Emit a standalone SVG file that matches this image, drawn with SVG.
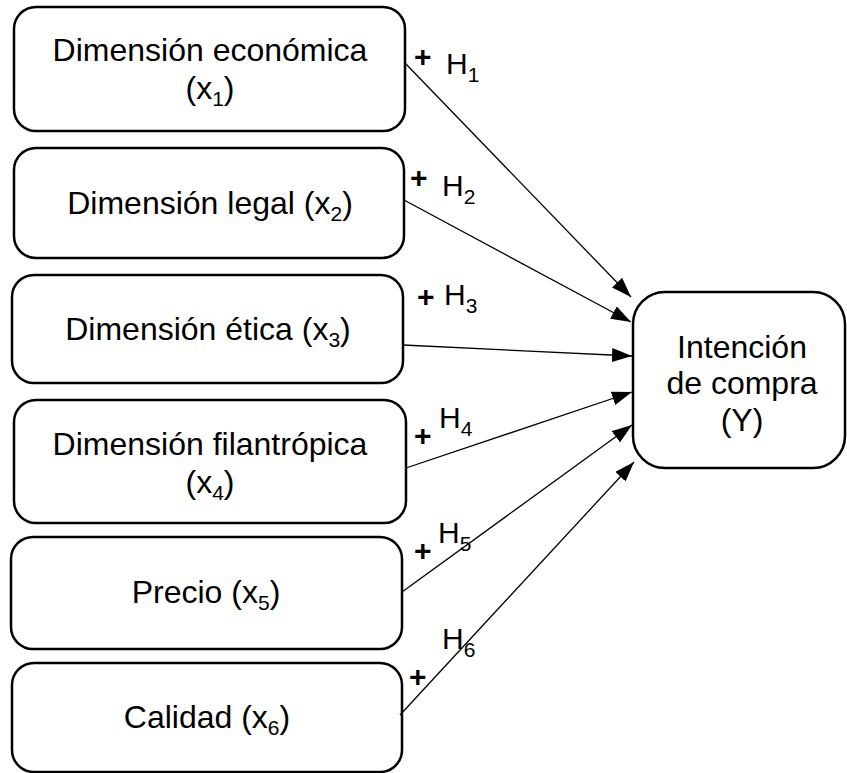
<svg xmlns="http://www.w3.org/2000/svg" width="847" height="773" viewBox="0 0 847 773">
<defs>
<style>
.box{fill:#fff;stroke:#000;stroke-width:2.5}
.t{font-family:"Liberation Sans",Arial,sans-serif;font-size:32px;fill:#000;text-anchor:middle}
.h{font-family:"Liberation Sans",Arial,sans-serif;font-size:30px;fill:#000}
.p{font-family:"Liberation Sans",Arial,sans-serif;font-size:30px;font-weight:bold;fill:#000}
.s{font-size:21px}
.c{stroke:#000;stroke-width:1.3;fill:none;marker-end:url(#ah)}
</style>
<marker id="ah" markerUnits="userSpaceOnUse" markerWidth="22" markerHeight="16" refX="20" refY="7" orient="auto">
<path d="M0,0 L20,7 L0,14 Z" fill="#000"/>
</marker>
</defs>
<g id="n1"><rect class="box" x="14" y="7" width="391" height="124" rx="22"/>
<text class="t" x="210" y="61">Dimensión económica</text>
<text class="t" x="210" y="99">(x<tspan class="s" dy="7">1</tspan><tspan dy="-7">)</tspan></text></g>
<g id="n2"><rect class="box" x="14" y="148" width="390" height="110" rx="22"/>
<text class="t" x="210" y="214">Dimensión legal (x<tspan class="s" dy="7">2</tspan><tspan dy="-7">)</tspan></text></g>
<g id="n3"><rect class="box" x="12" y="275" width="391" height="108" rx="22"/>
<text class="t" x="208" y="340">Dimensión ética (x<tspan class="s" dy="7">3</tspan><tspan dy="-7">)</tspan></text></g>
<g id="n4"><rect class="box" x="14" y="400" width="392" height="123" rx="22"/>
<text class="t" x="210" y="455">Dimensión filantrópica</text>
<text class="t" x="210" y="493">(x<tspan class="s" dy="7">4</tspan><tspan dy="-7">)</tspan></text></g>
<g id="n5"><rect class="box" x="11" y="537" width="391" height="112" rx="22"/>
<text class="t" x="206" y="603">Precio (x<tspan class="s" dy="7">5</tspan><tspan dy="-7">)</tspan></text></g>
<g id="n6"><rect class="box" x="12" y="663" width="390" height="109" rx="22"/>
<text class="t" x="207" y="728">Calidad (x<tspan class="s" dy="7">6</tspan><tspan dy="-7">)</tspan></text></g>
<g id="y"><rect class="box" x="633" y="292" width="212" height="176" rx="32"/>
<text class="t" x="742" y="358">Intención</text>
<text class="t" x="742" y="394">de compra</text>
<text class="t" x="742" y="431">(Y)</text></g>
<g id="connectors">
<line class="c" x1="405" y1="63" x2="631" y2="297"/>
<line class="c" x1="404" y1="200" x2="631" y2="322"/>
<line class="c" x1="403" y1="345" x2="632" y2="356"/>
<line class="c" x1="406" y1="468" x2="632" y2="392"/>
<line class="c" x1="402" y1="592" x2="632" y2="425"/>
<line class="c" x1="400" y1="715" x2="634" y2="462"/>
</g>
<g id="labels">
<text class="p" x="414" y="67">+</text><text class="h" x="446" y="74">H<tspan class="s" dy="8">1</tspan></text>
<text class="p" x="410" y="188">+</text><text class="h" x="442" y="196">H<tspan class="s" dy="8">2</tspan></text>
<text class="p" x="417" y="307">+</text><text class="h" x="444" y="305">H<tspan class="s" dy="8">3</tspan></text>
<text class="p" x="414" y="446">+</text><text class="h" x="439" y="428">H<tspan class="s" dy="8">4</tspan></text>
<text class="p" x="414" y="561">+</text><text class="h" x="438" y="543">H<tspan class="s" dy="8">5</tspan></text>
<text class="p" x="409" y="687">+</text><text class="h" x="442" y="649">H<tspan class="s" dy="8">6</tspan></text>
</g>
</svg>
